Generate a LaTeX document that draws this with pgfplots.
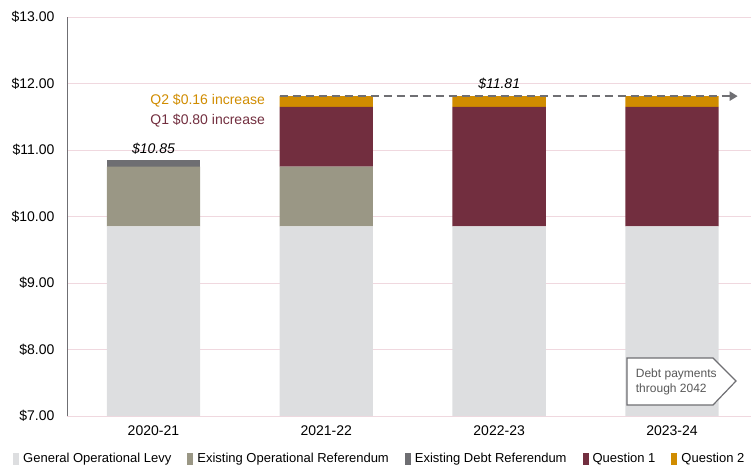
\documentclass[border=0pt]{standalone}
\usepackage{pgfplots}
\pgfplotsset{compat=1.18}
\usepackage{fontspec}
\setmainfont{Liberation Sans}
\usetikzlibrary{arrows.meta}
\definecolor{gol}{HTML}{DDDEE0}
\definecolor{opr}{HTML}{9A9785}
\definecolor{debt}{HTML}{6E6E72}
\definecolor{qone}{HTML}{722E3F}
\definecolor{qtwo}{HTML}{D08C00}
\definecolor{gridpink}{HTML}{F0D8DF}
\definecolor{arrowgray}{HTML}{6F6F73}
\definecolor{txtgray}{HTML}{595959}
\begin{document}
\begin{tikzpicture}
\begin{axis}[
  scale only axis,
  width=684pt, height=399pt,
  ybar stacked,
  bar width=0.54,
  xmin=-0.5, xmax=3.457,
  ymin=7, ymax=13,
  ytick={7,8,9,10,11,12,13},
  yticklabel={\$\pgfmathprintnumber[fixed,fixed zerofill,precision=2]{\tick}},
  /pgf/number format/assume math mode=true,
  xtick={0,1,2,3},
  xticklabels={2020-21,2021-22,2022-23,2023-24},
  major tick length=0pt,
  ymajorgrids,
  grid style={gridpink, line width=0.8pt},
  axis line style={draw=none},
  tick label style={font=\fontsize{14}{16}\selectfont, text=black},
  yticklabel style={xshift=-9pt},
  xticklabel style={yshift=-6pt},
  clip=false,
  legend columns=-1,
  legend style={at={(axis description cs:-0.0789,-0.1078)}, anchor=west, draw=none, fill=none, inner sep=0pt,
    font=\fontsize{13}{15}\selectfont, column sep=4pt,
    /tikz/every even column/.append style={column sep=16pt},
    nodes={inner sep=0pt}},
  legend image code/.code={\fill[#1] (0pt,-6pt) rectangle (6pt,6pt);},
  every axis plot/.append style={draw=none},
]
\addplot[fill=gol] coordinates {(0,9.85) (1,9.85) (2,9.85) (3,9.85)};
\addplot[fill=opr] coordinates {(0,0.90) (1,0.90) (2,0) (3,0)};
\addplot[fill=debt] coordinates {(0,0.10) (1,0) (2,0) (3,0)};
\addplot[fill=qone] coordinates {(0,0) (1,0.90) (2,1.80) (3,1.80)};
\addplot[fill=qtwo] coordinates {(0,0) (1,0.16) (2,0.16) (3,0.16)};
\legend{General Operational Levy, Existing Operational Referendum, Existing Debt Referendum, Question 1, Question 2}
\coordinate (yb) at (axis cs:-0.5,7);
\coordinate (yt) at (axis cs:-0.5,13);
\coordinate (d1) at (axis cs:0.73,11.81);
\coordinate (d2) at (axis cs:3.38,11.81);
\coordinate (l1) at (axis cs:2,11.86);
\coordinate (l2) at (axis cs:0,10.88);
\coordinate (q2) at (axis cs:0.665,11.737);
\coordinate (q1) at (axis cs:0.665,11.436);
\coordinate (p1) at (axis cs:2.740,7.872);
\coordinate (p2) at (axis cs:3.237,7.872);
\coordinate (p3) at (axis cs:3.370,7.526);
\coordinate (p4) at (axis cs:3.237,7.165);
\coordinate (p5) at (axis cs:2.740,7.165);
\coordinate (pt) at (axis cs:2.79,7.51);
\end{axis}
\draw[arrowgray, line width=0.8pt] (yb) -- (yt);
\draw[arrowgray, line width=2.6pt, dash pattern=on 8pt off 5pt, -{Triangle[length=8pt,width=9pt]}] (d1) -- (d2);
\node[font=\itshape\fontsize{14}{16}\selectfont, anchor=south] at (l1) {\$11.81};
\node[font=\itshape\fontsize{14}{16}\selectfont, anchor=south] at (l2) {\$10.85};
\node[font=\fontsize{14}{16}\selectfont, text=qtwo, anchor=east] at (q2) {Q2 \$0.16 increase};
\node[font=\fontsize{14}{16}\selectfont, text=qone, anchor=east] at (q1) {Q1 \$0.80 increase};
\draw[arrowgray, line width=1.2pt, fill=white] (p1) -- (p2) -- (p3) -- (p4) -- (p5) -- cycle;
\node[font=\fontsize{12}{15}\selectfont, text=txtgray, anchor=west, align=left, inner sep=0pt] at (pt) {Debt payments\\through 2042};
\pgfresetboundingbox
\path (yb) ++(-67pt,-53pt) rectangle ++(751pt,469pt);
\end{tikzpicture}
\end{document}
